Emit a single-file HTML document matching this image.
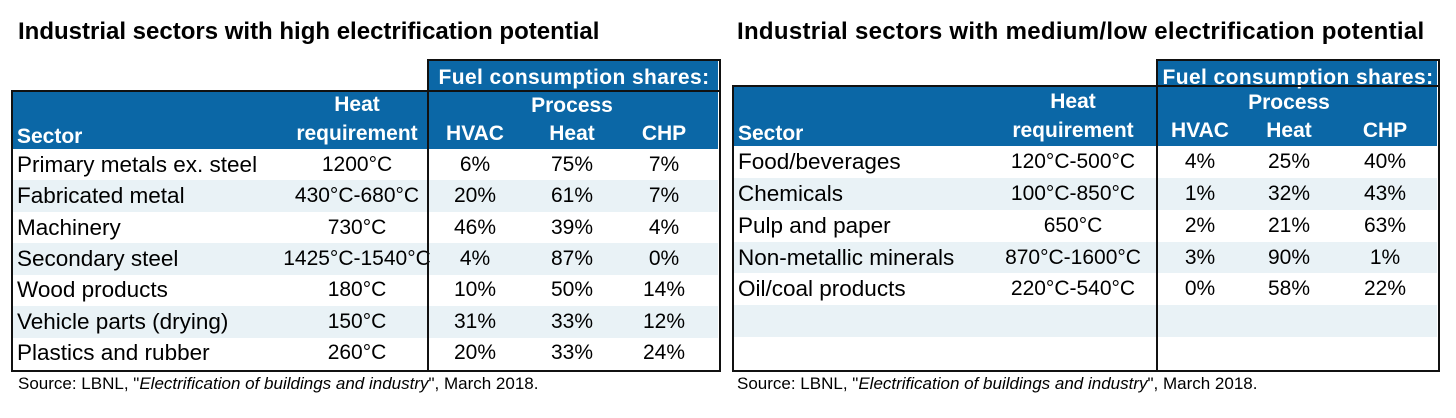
<!DOCTYPE html>
<html><head><meta charset="utf-8">
<style>
body{margin:0;width:1456px;height:418px;background:#fff;position:relative;overflow:hidden;font-family:"Liberation Sans",Arial,sans-serif;}
.a{position:absolute;white-space:nowrap;}
.t{font-weight:bold;font-size:24px;color:#000;}
.hd{color:#fff;font-weight:bold;font-size:21px;transform:translateX(-50%);}
.c{font-size:21px;color:#000;transform:translateX(-50%);}
.l{font-size:22.5px;color:#000;}
.src{font-size:17px;color:#000;}
</style></head><body>
<div class="a t" style="left:18px;top:18px">Industrial sectors with high electrification potential</div>
<div class="a t" style="left:737px;top:18px;letter-spacing:0.3px">Industrial sectors with medium/low electrification potential</div>
<div class="a src" style="left:18px;top:374px">Source: LBNL, "<i>Electrification of buildings and industry</i>", March 2018.</div>
<div class="a src" style="left:737px;top:374px">Source: LBNL, "<i>Electrification of buildings and industry</i>", March 2018.</div>
<script>
const leftSectors=["Primary metals ex. steel","Fabricated metal","Machinery","Secondary steel","Wood products","Vehicle parts (drying)","Plastics and rubber"];
const leftHeat=["1200°C","430°C-680°C","730°C","1425°C-1540°C","180°C","150°C","260°C"];
const leftHvac=["6%","20%","46%","4%","10%","31%","20%"];
const leftProc=["75%","61%","39%","87%","50%","33%","33%"];
const leftChp=["7%","7%","4%","0%","14%","12%","24%"];
const rightSectors=["Food/beverages","Chemicals","Pulp and paper","Non-metallic minerals","Oil/coal products","",""];
const rightHeat=["120°C-500°C","100°C-850°C","650°C","870°C-1600°C","220°C-540°C","",""];
const rightHvac=["4%","1%","2%","3%","0%","",""];
const rightProc=["25%","32%","21%","90%","58%","",""];
const rightChp=["40%","43%","63%","1%","22%","",""];

function mk(cls,style,txt){const d=document.createElement('div');d.className='a '+cls;d.style.cssText=style;if(txt!==undefined)d.textContent=txt;document.body.appendChild(d);return d;}

function table(p,sec,heat,hv,pr,ch){
  const rowH=(p.bottom-p.hdrBot)/7;
  let e=mk('', `left:${p.x0}px;top:${p.mainTop}px;width:${p.x1-p.x0}px;height:${p.hdrBot-p.mainTop}px;background:#0b67a6`);
  
  
  e=mk('', `left:${p.fx}px;top:${p.fuelTop}px;width:${p.x1-p.fx}px;height:${p.hdrBot-p.fuelTop}px;background:#0b67a6`);
  
  
  for(let i=0;i<7;i++){
    const y=p.hdrBot+i*rowH;
    e=mk('',`left:${p.x0}px;top:${y}px;width:${p.x1-p.x0}px;height:${rowH}px;background:${i%2?'#e9f2f6':'#fff'}`);
    
    
    const ty=y+rowH/2-13;
    e=mk('l',`left:${p.x0+5}px;top:${ty}px`,sec[i]);
    
    
    e=mk('c',`left:${p.cH}px;top:${ty+1}px`,heat[i]);
    
    
    e=mk('c',`left:${p.c1}px;top:${ty+1}px`,hv[i]);
    
    
    e=mk('c',`left:${p.c2}px;top:${ty+1}px`,pr[i]);
    
    
    e=mk('c',`left:${p.c3}px;top:${ty+1}px`,ch[i]);
    
    
  }
  const hb=p.hdrBot;
  e=mk('hd',`left:${(p.fx+p.x1)/2+1}px;top:${p.fuelTop+6}px;font-size:21px;letter-spacing:0.4px`,'Fuel consumption shares:');
  
  
  e=mk('hd',`left:${p.c2}px;top:${hb-55}px`,'Process');
  
  
  e=mk('hd',`left:${p.cH}px;top:${hb-56}px`,'Heat');
  
  
  e=mk('hd',`left:${p.cH}px;top:${hb-27}px`,'requirement');
  
  
  e=mk('hd',`left:${p.x0+5}px;top:${hb-24}px;transform:none`,'Sector');
  
  
  e=mk('hd',`left:${p.c1}px;top:${hb-27}px`,'HVAC');
  
  
  e=mk('hd',`left:${p.c2}px;top:${hb-27}px`,'Heat');
  
  
  e=mk('hd',`left:${p.c3}px;top:${hb-27}px`,'CHP');
  
  
  e=mk('',`left:${p.x0-1}px;top:${p.mainTop-1}px;width:${p.x1-p.x0}px;height:${p.bottom-p.mainTop}px;border:2px solid #111`);
  
  
  e=mk('',`left:${p.fx-1}px;top:${p.fuelTop-1}px;width:${p.x1-p.fx}px;height:${p.bottom-p.fuelTop}px;border:2px solid #111`);
  
  
}
table({id:'left-table',x0:12,x1:718,fx:428,mainTop:91,fuelTop:60,hdrBot:149,bottom:369,cH:357,c1:475,c2:572,c3:664},leftSectors,leftHeat,leftHvac,leftProc,leftChp);
table({id:'right-table',x0:733,x1:1437,fx:1157,mainTop:86,fuelTop:60,hdrBot:146,bottom:369,cH:1073,c1:1200,c2:1289,c3:1385},rightSectors,rightHeat,rightHvac,rightProc,rightChp);
</script>
</body></html>
